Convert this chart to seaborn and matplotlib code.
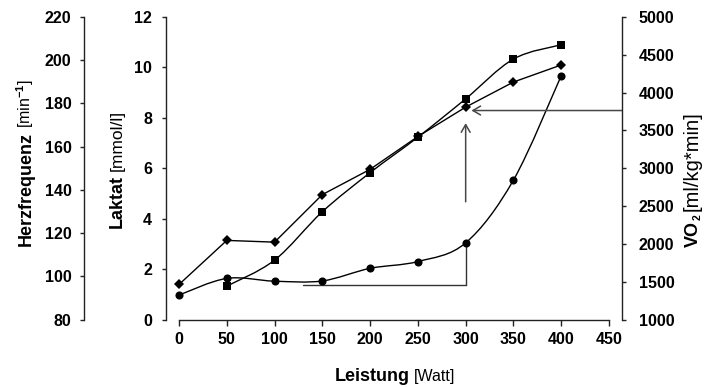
import numpy as np
import pandas as pd
import matplotlib
matplotlib.use("Agg")
import matplotlib.pyplot as plt
from matplotlib.path import Path
from matplotlib.patches import PathPatch, ArrowStyle
import seaborn as sns

# ---- data ----
leistung = [0, 50, 100, 150, 200, 250, 300, 350, 400]
laktat = [0.97, 1.63, 1.52, 1.53, 2.03, 2.30, 3.04, 5.53, 9.67]
herzfrequenz = [96.2, 116.6, 115.8, 137.8, 149.5, 164.7, 178.3, 189.9, 197.8]
vo2_leistung = [50, 100, 150, 200, 250, 300, 350, 400]
vo2 = [1441, 1785, 2425, 2942, 3411, 3918, 4444, 4633]

x_ticks = [0, 50, 100, 150, 200, 250, 300, 350, 400, 450]
laktat_ticks = [0, 2, 4, 6, 8, 10, 12]
hf_ticks = [80, 100, 120, 140, 160, 180, 200, 220]
vo2_ticks = [1000, 1500, 2000, 2500, 3000, 3500, 4000, 4500, 5000]

# annotation values (Laktat axis units / Watt)
schwelle_x = 300
schwelle_line_y = 1.36
schwelle_line_x0 = 130
arrow_v = (4.67, 7.79)
arrow_h_y = 8.29
arrow_h_tip = 306

sns.set_theme(style="white")
plt.rcParams["font.family"] = ["Liberation Sans", "DejaVu Sans"]
plt.rcParams["font.weight"] = "bold"
plt.rcParams["mathtext.fontset"] = "custom"
plt.rcParams["mathtext.rm"] = "Liberation Sans"
plt.rcParams["mathtext.bf"] = "Liberation Sans:bold"
plt.rcParams["mathtext.default"] = "rm"

W, H = 706, 387
fig = plt.figure(figsize=(W / 100, H / 100), dpi=100)
L, R, T, B = 166, 622, 17, 319.5
ax = fig.add_axes([L / W, 1 - B / H, (R - L) / W, (B - T) / H])
ax.set_facecolor("none")
ax_hf = ax.twinx()
ax_vo = ax.twinx()

xpx = 430 / 450
xlo = 0 - 13 / xpx
xhi = 450 + 13 / xpx
ax.set_xlim(xlo, xhi)
ax.set_ylim(0, 12)
ax_hf.set_ylim(80, 220)
ax_vo.set_ylim(1000, 5000)

ink = "#000000"
tick_font = dict(fontsize=11.5, fontweight="bold", color=ink)


def smooth_patch(axis, xs, ys, color):
    xs = np.asarray(xs, float)
    ys = np.asarray(ys, float)
    n = len(xs)
    verts = [(xs[0], ys[0])]
    codes = [Path.MOVETO]
    for i in range(n - 1):
        i0 = max(i - 1, 0)
        i3 = min(i + 2, n - 1)
        c1 = (xs[i] + (xs[i + 1] - xs[i0]) / 6, ys[i] + (ys[i + 1] - ys[i0]) / 6)
        c2 = (xs[i + 1] - (xs[i3] - xs[i]) / 6, ys[i + 1] - (ys[i3] - ys[i]) / 6)
        verts += [c1, c2, (xs[i + 1], ys[i + 1])]
        codes += [Path.CURVE4] * 3
    patch = PathPatch(Path(verts, codes), facecolor="none", edgecolor=color, lw=1.0)
    axis.add_patch(patch)


# Laktat: smooth curve with circles
smooth_patch(ax, leistung, laktat, ink)
sns.scatterplot(x=leistung, y=laktat, ax=ax, marker="o", s=34, color=ink,
                edgecolor=ink, linewidth=0, zorder=5)

# Herzfrequenz: straight segments with diamonds
df_hf = pd.DataFrame({"Leistung": leistung, "HF": herzfrequenz})
sns.lineplot(data=df_hf, x="Leistung", y="HF", ax=ax_hf, color=ink, lw=1.0,
             marker="D", markersize=5.6, markeredgewidth=0, sort=False)

# VO2: smooth curve with squares
smooth_patch(ax_vo, vo2_leistung, vo2, ink)
sns.scatterplot(x=vo2_leistung, y=vo2, ax=ax_vo, marker="s", s=36, color=ink,
                edgecolor=ink, linewidth=0, zorder=5)

# threshold annotation
line_c = "#333333"
ax.plot([schwelle_line_x0, schwelle_x], [schwelle_line_y, schwelle_line_y], color=line_c, lw=1.0)
ax.plot([schwelle_x, schwelle_x], [schwelle_line_y, laktat[leistung.index(schwelle_x)]],
        color=line_c, lw=1.0)
astyle = ArrowStyle("->", head_length=0.55, head_width=0.32)
ax.annotate("", xy=(schwelle_x, arrow_v[1]), xytext=(schwelle_x, arrow_v[0]),
            arrowprops=dict(arrowstyle=astyle, color="#474747", lw=1.1,
                            mutation_scale=10, shrinkA=0, shrinkB=0))
ax.annotate("", xy=(arrow_h_tip, arrow_h_y), xytext=(xhi, arrow_h_y),
            arrowprops=dict(arrowstyle=astyle, color="#474747", lw=1.1,
                            mutation_scale=10, shrinkA=0, shrinkB=0))

# ---- axes styling ----
for a in (ax, ax_hf, ax_vo):
    for s in a.spines.values():
        s.set_visible(False)
        s.set_color("#222222")
        s.set_linewidth(1.0)
    a.grid(False)
    a.set_xlabel("")
    a.set_ylabel("")

ax.spines["left"].set_visible(True)
ax.spines["bottom"].set_visible(True)
ax.spines["bottom"].set_bounds(0, 450)
ax.set_xticks(x_ticks)
ax.set_xticklabels([str(v) for v in x_ticks], **tick_font)
ax.set_yticks(laktat_ticks)
ax.set_yticklabels([str(v) for v in laktat_ticks], **tick_font)
ax.tick_params(axis="x", direction="out", length=4, width=1, color="#222222", pad=5, bottom=True)
ax.tick_params(axis="y", direction="out", length=3, width=1, color="#222222", pad=7, left=True)

ax_hf.spines["left"].set_visible(True)
ax_hf.spines["left"].set_position(("axes", (84 - L) / (R - L)))
ax_hf.yaxis.set_ticks_position("left")
ax_hf.set_yticks(hf_ticks)
ax_hf.set_yticklabels([str(v) for v in hf_ticks], **tick_font)
ax_hf.tick_params(axis="y", direction="out", length=3, width=1, color="#222222", pad=6,
                  left=True, right=False, labelleft=True, labelright=False)

ax_vo.spines["right"].set_visible(True)
ax_vo.set_yticks(vo2_ticks)
ax_vo.set_yticklabels([str(v) for v in vo2_ticks], **tick_font)
ax_vo.tick_params(axis="y", direction="out", length=3, width=1, color="#222222", pad=9,
                  right=True, left=False)

for a in (ax, ax_hf, ax_vo):
    for lbl in a.get_xticklabels() + a.get_yticklabels():
        lbl.set_fontweight("bold")


# ---- axis titles (bold name + regular unit) ----
def fx(px):
    return px / W


def fy(py):
    return 1 - py / H


bold = dict(fontsize=13, fontweight="bold", color=ink)

fig.canvas.draw()
renderer = fig.canvas.get_renderer()


def vertical_label(x_base, y_start, name, unit, unit_size, sub=None):
    t = fig.text(fx(x_base), fy(y_start), name, rotation=90, rotation_mode="anchor",
                 ha="left", va="baseline", **bold)
    top = t.get_window_extent(renderer).y1  # display px from bottom
    if sub is not None:
        s = fig.text(fx(x_base + 3), top / H + 0.5 / H, sub, rotation=90,
                     rotation_mode="anchor", ha="left", va="baseline",
                     fontsize=7.5, fontweight="bold", color=ink)
        top = s.get_window_extent(renderer).y1
    fig.text(fx(x_base), (top + 4) / H, unit, rotation=90, rotation_mode="anchor",
             ha="left", va="baseline", fontsize=unit_size, fontweight="normal", color=ink)


# x title
fig.text(fx(410), fy(381), "Leistung", ha="right", va="baseline", **bold)
fig.text(fx(414), fy(381), "[Watt]", ha="left", va="baseline",
         fontsize=11.5, fontweight="normal", color=ink)

vertical_label(31, 246, "Herzfrequenz", "[min$^{-1}$]", 11.5)
vertical_label(122, 228, "Laktat", "[mmol/l]", 12.5)
vertical_label(698, 247, "VO", "[ml/kg*min]", 14.5, sub="2")

fig.savefig("out.png", dpi=100)
